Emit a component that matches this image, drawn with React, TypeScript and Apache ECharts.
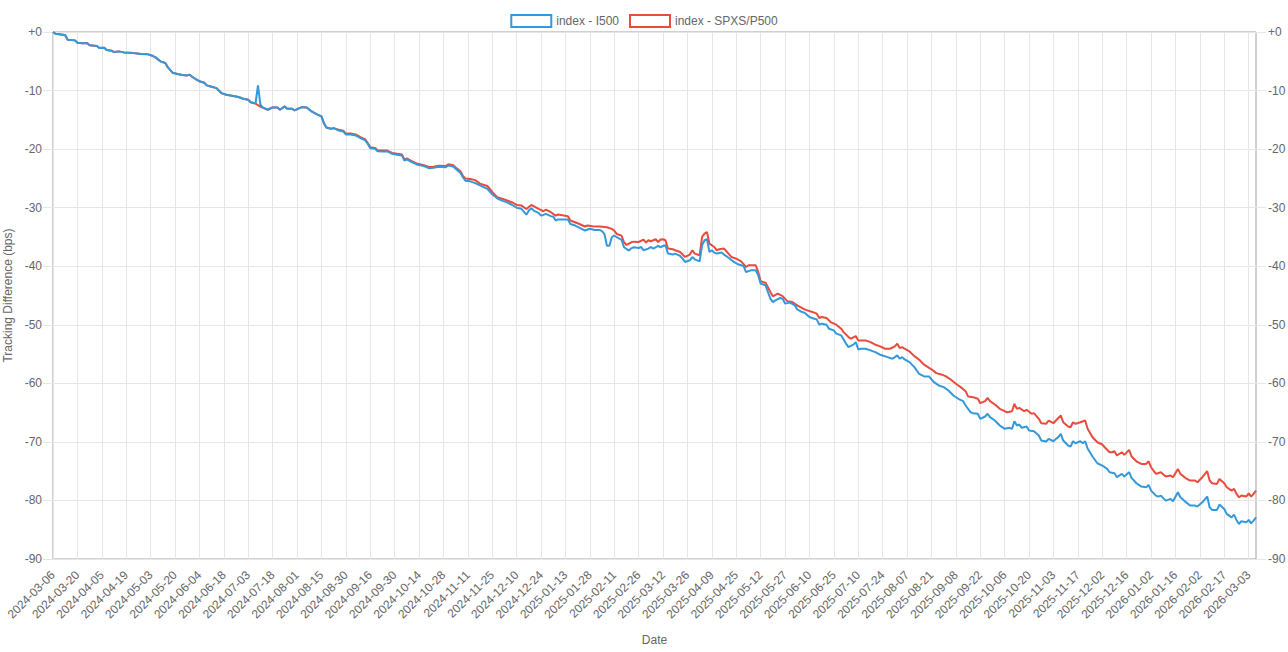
import React, { useEffect, useRef } from "react";
import * as echarts from "echarts";

// ---- categories: trading days (weekdays minus NYSE and London holidays) ----
const startDate = "2024-03-06";
const endDate = "2026-03-06";
const closedDays = [
  "2024-03-29", "2024-04-01", "2024-05-06", "2024-05-27", "2024-06-19", "2024-07-04",
  "2024-08-26", "2024-09-02", "2024-11-28", "2024-12-25", "2024-12-26",
  "2025-01-01", "2025-01-09", "2025-01-20", "2025-02-17", "2025-04-18", "2025-04-21",
  "2025-05-05", "2025-05-26", "2025-06-19", "2025-07-04", "2025-08-25", "2025-09-01",
  "2025-11-27", "2025-12-25", "2025-12-26",
  "2026-01-01", "2026-01-19", "2026-02-16",
];

const seriesNames = ["index - I500", "index - SPXS/P500"];
const yAxisTitle = "Tracking Difference (bps)";
const xAxisTitle = "Date";

// ---- series values: [trading-day number, bps] ----
const i500Points: [number, number][] = [
  [0, 0], [1, -0.29], [4, -0.46], [5, -0.57], [6, -1.31], [9, -1.43], [10, -1.82], [12, -1.94],
  [14, -1.88], [15, -2.28], [18, -2.39], [19, -2.74], [21, -2.68], [22, -3.08], [24, -3.19],
  [25, -3.42], [27, -3.31], [29, -3.48], [33, -3.59], [36, -3.76], [39, -3.82], [41, -4.1],
  [42, -4.33], [44, -5.01], [46, -5.3], [47, -6.0], [49, -6.95], [51, -7.18], [53, -7.35],
  [55, -7.41], [56, -7.3], [57, -7.64], [59, -8.16], [60, -8.4], [62, -8.66], [63, -9.12],
  [65, -9.35], [67, -9.58], [69, -10.43], [71, -10.72], [75, -11.0], [76, -11.1], [78, -11.4],
  [80, -11.58], [81, -12.0], [83, -12.2], [84, -9.12], [85, -12.43], [86, -12.9], [88, -13.28],
  [90, -12.88], [92, -12.9], [93, -13.28], [95, -12.71], [96, -13.11], [98, -13.11], [99, -13.39],
  [101, -13.0], [102, -12.83], [104, -12.88], [106, -13.56], [108, -14.02], [110, -14.42],
  [111, -15.56], [112, -16.3], [114, -16.53], [115, -16.42], [117, -16.81], [119, -16.98],
  [120, -17.49], [122, -17.49], [124, -17.66], [126, -18.13], [128, -18.52], [129, -19.1],
  [130, -19.84], [132, -19.95], [133, -20.35], [135, -20.4], [137, -20.4], [139, -20.81],
  [141, -20.98], [143, -21.08], [144, -21.94], [145, -21.77], [147, -22.23], [149, -22.62],
  [152, -22.91], [154, -23.26], [156, -23.2], [158, -23.03], [161, -23.08], [162, -22.79],
  [164, -22.96], [165, -23.37], [167, -24.06],
  [168, -24.8], [169, -25.4], [171, -25.5], [173, -25.8], [175, -26.2], [178, -26.8], [180, -27.7],
  [182, -28.4], [184, -28.8], [186, -29.1], [188, -29.5], [190, -30.0], [192, -30.2], [193, -30.7],
  [194, -31.2], [195, -30.5], [196, -30.1], [197, -30.5], [199, -30.9], [200, -31.35], [201, -31.24],
  [202, -31.07], [204, -31.46], [205, -31.5], [206, -32.2], [207, -32.0], [209, -32.0], [211, -32.0],
  [212, -32.8], [214, -33.05], [216, -33.5], [218, -33.9], [220, -33.6], [222, -33.8], [224, -33.8],
  [225, -34.0], [226, -34.5], [227, -36.5], [228, -36.5], [229, -35.05], [230, -34.76], [231, -35.05],
  [233, -35.5], [234, -36.76], [236, -37.33], [237, -36.94], [238, -36.76], [240, -36.88],
  [241, -36.71], [242, -37.28], [244, -36.99], [245, -36.71], [246, -36.99], [248, -36.54],
  [249, -36.76], [250, -36.54], [251, -36.42], [252, -37.84], [254, -38.01], [255, -37.84],
  [257, -38.25], [258, -38.7], [259, -39.27], [261, -38.99], [262, -38.42], [263, -38.82],
  [265, -39.16], [266, -36.42], [267, -35.57], [268, -35.4], [269, -37.56], [270, -37.28],
  [271, -37.67], [272, -37.84], [274, -37.67], [275, -38.01], [277, -38.59], [279, -39.27],
  [281, -39.72], [283, -39.96], [284, -40.99], [286, -40.7], [288, -40.7], [289, -41.55],
  [290, -42.97], [292, -43.26], [293, -44.41], [294, -45.54], [295, -46.12], [296, -45.83],
  [298, -45.43], [299, -45.54], [300, -46.39], [302, -46.22], [304, -46.68], [305, -47.37],
  [307, -47.83], [308, -47.93], [310, -48.68], [312, -48.96], [313, -49.08], [314, -49.98],
  [315, -49.81], [317, -49.98], [318, -50.67], [320, -50.96], [321, -51.52], [323, -51.81],
  [324, -52.5], [325, -53.23], [326, -53.81], [328, -53.4], [329, -52.96], [330, -54.21],
  [331, -54.09], [333, -54.09], [335, -54.38], [337, -54.67], [339, -55.12], [342, -55.52],
  [344, -55.8], [345, -55.52], [346, -55.23], [347, -55.8], [348, -55.52], [349, -55.92],
  [351, -56.38], [353, -57.23], [355, -58.4], [357, -58.82], [359, -58.82], [361, -59.8],
  [363, -60.36], [365, -60.65], [367, -61.22], [369, -62.07], [371, -62.64], [373, -63.05],
  [374, -63.78], [376, -64.93], [377, -65.09], [379, -65.2], [380, -66.06], [382, -65.66],
  [383, -65.2], [384, -65.78], [386, -66.35], [388, -67.2], [389, -67.49], [390, -67.77],
  [392, -67.6], [393, -67.77], [394, -66.47], [395, -67.2], [396, -67.03], [397, -67.6],
  [399, -67.37], [400, -68.06], [402, -68.18], [404, -68.91], [405, -69.77], [407, -69.94],
  [408, -69.48], [410, -69.89], [411, -69.48], [412, -69.2], [413, -68.62], [414, -69.77],
  [416, -70.62], [417, -70.8], [418, -69.89], [419, -70.23], [421, -69.89], [422, -70.23],
  [423, -69.89], [424, -71.13], [426, -72.5], [428, -73.65], [430, -74.04], [432, -74.61],
  [433, -75.18], [435, -75.36], [436, -76.03], [438, -75.46], [439, -75.92], [441, -75.18],
  [442, -76.14], [444, -77.07], [446, -77.63], [448, -77.75], [449, -77.35], [450, -78.32],
  [452, -79.17], [453, -79.34], [454, -79.17], [456, -80.03], [458, -79.74], [459, -80.14],
  [461, -78.6], [462, -79.46], [464, -80.2], [466, -80.88], [468, -80.88], [469, -81.05],
  [471, -80.32], [473, -79.34], [474, -81.17], [475, -81.62], [477, -81.62], [478, -80.71],
  [480, -81.45], [481, -82.3], [483, -82.88], [484, -82.42], [485, -83.33], [486, -84.02],
  [487, -83.56], [489, -83.74], [490, -83.33], [491, -83.91], [492, -83.45], [493, -82.88],
];

const spxsPoints: [number, number][] = [
  [0, 0], [1, -0.29], [4, -0.46], [5, -0.57], [6, -1.31], [9, -1.43], [10, -1.82], [12, -1.94],
  [14, -1.88], [15, -2.28], [18, -2.39], [19, -2.74], [21, -2.68], [22, -3.08], [24, -3.19],
  [25, -3.42], [27, -3.31], [29, -3.48], [33, -3.59], [36, -3.76], [39, -3.82], [41, -4.1],
  [42, -4.33], [44, -5.01], [46, -5.3], [47, -6.0], [49, -6.95], [51, -7.18], [53, -7.35],
  [55, -7.41], [56, -7.3], [57, -7.64], [59, -8.16], [60, -8.4], [62, -8.66], [63, -9.12],
  [65, -9.35], [67, -9.58], [69, -10.43], [71, -10.72], [75, -11.0], [76, -11.1], [78, -11.4],
  [80, -11.58], [81, -12.0], [83, -12.2], [84, -12.5], [85, -12.77], [86, -12.9], [88, -13.28],
  [90, -12.88], [92, -12.9], [93, -13.28], [95, -12.71], [96, -13.11], [98, -13.11], [99, -13.39],
  [101, -13.0], [102, -12.83], [104, -12.88], [106, -13.56], [108, -14.02], [110, -14.42],
  [111, -15.56], [112, -16.3], [114, -16.53], [115, -16.42], [117, -16.7], [119, -16.85],
  [120, -17.35], [122, -17.35], [124, -17.5], [126, -17.95], [128, -18.35], [129, -18.95],
  [130, -19.7], [132, -19.8], [133, -20.2], [135, -20.25], [137, -20.25], [139, -20.65],
  [141, -20.8], [143, -20.9], [144, -21.75], [145, -21.6], [147, -22.05], [149, -22.45],
  [152, -22.75], [154, -23.05], [156, -23.0], [158, -22.85], [161, -22.9], [162, -22.6],
  [164, -22.75], [165, -23.15], [167, -23.8],
  [168, -24.6], [169, -25.0], [171, -25.1], [173, -25.3], [175, -25.9], [178, -26.3], [180, -27.3],
  [182, -28.2], [185, -28.6], [188, -29.07], [190, -29.53], [192, -29.64], [194, -30.22],
  [196, -29.53], [199, -30.22], [201, -30.61], [202, -30.32], [204, -30.78], [206, -31.35],
  [207, -31.17], [211, -31.46], [212, -32.2], [215, -32.66], [218, -33.22], [219, -33.05],
  [221, -33.17], [224, -33.22], [227, -33.34], [229, -33.63], [230, -33.91], [231, -34.49],
  [233, -34.77], [234, -35.91], [235, -36.37], [237, -35.91], [238, -35.8], [240, -35.86],
  [242, -35.45], [243, -35.96], [244, -35.57], [245, -35.74], [247, -35.4], [248, -35.86],
  [249, -35.45], [250, -35.4], [251, -35.57], [252, -36.99], [254, -37.11], [255, -37.28],
  [257, -37.56], [259, -38.42], [261, -38.01], [262, -37.28], [263, -37.84], [265, -38.13],
  [266, -35.0], [267, -34.42], [268, -34.15], [269, -36.13], [271, -36.71], [272, -37.28],
  [273, -37.11], [275, -36.99], [276, -37.45], [278, -38.42], [280, -38.7], [282, -39.16],
  [284, -40.13], [285, -39.84], [288, -39.84], [289, -40.99], [290, -42.58], [292, -42.81],
  [294, -44.41], [295, -45.14], [297, -44.68], [299, -45.1], [301, -46.0], [303, -46.12],
  [305, -46.68], [308, -47.37], [310, -47.66], [312, -47.93], [313, -48.1], [314, -48.85],
  [315, -48.68], [317, -48.85], [319, -49.64], [321, -49.98], [323, -50.67], [324, -51.25],
  [326, -52.1], [327, -52.38], [329, -51.93], [330, -52.67], [331, -52.67], [333, -52.67],
  [335, -52.96], [337, -53.4], [339, -53.69], [341, -54.09], [343, -54.09], [345, -53.69],
  [346, -53.23], [347, -53.98], [348, -53.81], [349, -54.09], [351, -54.55], [353, -55.35],
  [355, -55.97], [357, -56.82], [360, -57.6], [362, -58.26], [364, -58.48], [366, -58.82],
  [368, -59.39], [370, -60.07], [372, -60.65], [374, -61.34], [375, -62.24], [377, -62.36],
  [379, -62.64], [380, -63.39], [382, -63.05], [383, -62.47], [384, -63.05], [386, -63.61],
  [388, -64.35], [390, -64.76], [391, -64.93], [393, -64.76], [394, -63.5], [395, -64.35],
  [396, -64.18], [398, -64.76], [399, -64.52], [401, -65.2], [402, -65.09], [404, -66.06],
  [405, -66.81], [407, -66.92], [408, -66.35], [410, -66.81], [411, -66.35], [413, -65.49],
  [414, -66.64], [416, -67.37], [417, -67.49], [418, -66.64], [419, -66.92], [421, -66.64],
  [423, -66.35], [424, -67.77], [426, -69.2], [428, -70.06], [430, -70.45], [431, -70.91],
  [433, -71.77], [434, -71.77], [435, -71.6], [436, -72.33], [438, -71.77], [439, -72.22],
  [441, -71.36], [442, -72.5], [444, -73.31], [446, -73.76], [448, -73.76], [449, -73.31],
  [450, -74.33], [451, -74.9], [452, -75.46], [454, -75.18], [456, -75.92], [458, -75.75],
  [459, -76.03], [461, -74.61], [462, -75.46], [464, -76.14], [466, -76.6], [468, -76.6],
  [469, -76.9], [471, -76.03], [473, -75.0], [474, -76.6], [475, -77.07], [477, -77.18],
  [478, -76.32], [480, -77.07], [481, -77.75], [483, -78.32], [484, -78.03], [485, -78.88],
  [486, -79.46], [487, -79.17], [489, -79.34], [490, -78.78], [491, -79.34], [492, -78.88],
  [493, -78.32],
];

const yMin = -90;
const yMax = 0;
const yStep = 10;

const BLUE = "#3498db";
const RED = "#e74c3c";
const TEXT = "#666";
const GRID = "#e6e6e6";
const FONT = "'Liberation Sans', Arial, Helvetica, sans-serif";

function buildTradingDays(): string[] {
  const closed = new Set(closedDays);
  const out: string[] = [];
  let t = Date.parse(startDate + "T00:00:00Z");
  const end = Date.parse(endDate + "T00:00:00Z");
  while (t <= end) {
    const d = new Date(t);
    const wd = d.getUTCDay();
    const s = d.toISOString().slice(0, 10);
    if (wd !== 0 && wd !== 6 && !closed.has(s)) out.push(s);
    t += 86400000;
  }
  return out;
}

export default function App() {
  const ref = useRef<HTMLDivElement>(null);

  useEffect(() => {
    if (!ref.current) return;
    const chart = echarts.init(ref.current, undefined, { renderer: "svg" });
    const dates = buildTradingDays();
    const yLabel = (v: number) => (v >= 0 ? "+" + v : String(v));
    const yCommon = {
      type: "value",
      min: yMin,
      max: yMax,
      interval: yStep,
      axisLine: { show: false },
      axisTick: { show: true, length: 10, lineStyle: { color: GRID } },
    };
    chart.setOption({
      animation: false,
      backgroundColor: "#fff",
      textStyle: { fontFamily: FONT },
      legend: {
        top: 9,
        left: "center",
        itemWidth: 40,
        itemHeight: 12,
        itemGap: 10,
        textStyle: { color: TEXT, fontSize: 12, fontFamily: FONT },
        data: [
          { name: seriesNames[0], icon: "rect", itemStyle: { color: "#fff", borderColor: BLUE, borderWidth: 2 } },
          { name: seriesNames[1], icon: "rect", itemStyle: { color: "#fff", borderColor: RED, borderWidth: 2 } },
        ],
      },
      grid: {
        left: 53,
        right: 32,
        top: 32,
        bottom: 93,
        outerBoundsMode: "none",
        containLabel: false,
        show: true,
        borderColor: "#a0a0a0",
        borderWidth: 1,
        backgroundColor: "transparent",
      },
      xAxis: {
        type: "category",
        data: dates,
        boundaryGap: false,
        name: xAxisTitle,
        nameLocation: "middle",
        nameGap: 75,
        nameTextStyle: { color: TEXT, fontSize: 12, fontFamily: FONT },
        axisLine: { show: false },
        axisTick: { show: true, interval: 9, length: 9, lineStyle: { color: GRID } },
        axisLabel: { interval: 9, rotate: 45, color: TEXT, fontSize: 12, margin: 14, fontFamily: FONT },
        splitLine: { show: true, interval: 9, lineStyle: { color: GRID } },
      },
      yAxis: [
        {
          ...yCommon,
          position: "left",
          name: yAxisTitle,
          nameLocation: "middle",
          nameGap: 35,
          nameTextStyle: { color: TEXT, fontSize: 12, fontFamily: FONT },
          axisLabel: { color: TEXT, fontSize: 12, margin: 11, formatter: yLabel, fontFamily: FONT },
          splitLine: { show: true, lineStyle: { color: GRID } },
        },
        {
          ...yCommon,
          position: "right",
          axisLabel: { color: TEXT, fontSize: 12, margin: 12, formatter: yLabel, fontFamily: FONT },
          splitLine: { show: false },
        },
      ],
      series: [
        {
          name: seriesNames[1],
          type: "line",
          data: spxsPoints,
          symbol: "none",
          showSymbol: false,
          lineStyle: { color: RED, width: 2 },
          itemStyle: { color: RED },
          z: 2,
        },
        {
          name: seriesNames[0],
          type: "line",
          data: i500Points,
          symbol: "none",
          showSymbol: false,
          lineStyle: { color: BLUE, width: 2 },
          itemStyle: { color: BLUE },
          z: 3,
        },
      ],
    });
    return () => chart.dispose();
  }, []);

  return (
    <div
      ref={ref}
      style={{ position: "fixed", left: 0, top: 0, width: 1288, height: 652, background: "#fff" }}
    />
  );
}
